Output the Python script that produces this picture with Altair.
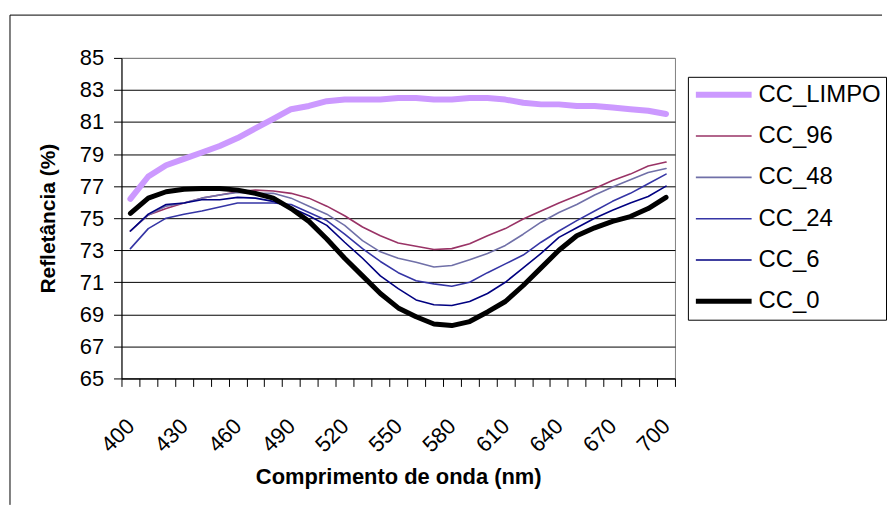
import altair as alt
import pandas as pd

wavelength = list(range(400, 701, 10))

series_names = ["CC_LIMPO", "CC_96", "CC_48", "CC_24", "CC_6", "CC_0"]
series_colors = ["#CC99FF", "#993366", "#7070A8", "#3535A5", "#000080", "#000000"]
series_widths = [6, 1.6, 1.6, 1.6, 1.6, 5]

cc_limpo = [76.2, 77.6, 78.3, 78.7, 79.1, 79.5, 80.0, 80.6, 81.2, 81.8, 82.0, 82.3, 82.4, 82.4, 82.4, 82.5,
            82.5, 82.4, 82.4, 82.5, 82.5, 82.4, 82.2, 82.1, 82.1, 82.0, 82.0, 81.9, 81.8, 81.7, 81.5]
cc_96 = [74.2, 75.2, 75.6, 75.95, 76.25, 76.45, 76.65, 76.75, 76.7, 76.55, 76.25, 75.75, 75.15, 74.45, 73.9, 73.45,
         73.25, 73.05, 73.1, 73.4, 73.9, 74.35, 74.95, 75.45, 75.95, 76.4, 76.85, 77.35, 77.75, 78.25, 78.5]
cc_48 = [74.2, 75.2, 75.75, 75.95, 76.25, 76.45, 76.6, 76.55, 76.55, 76.25, 75.75, 75.25, 74.55, 73.6, 72.9, 72.5,
         72.25, 71.95, 72.05, 72.4, 72.8, 73.3, 74.0, 74.75, 75.35, 75.85, 76.45, 76.95, 77.4, 77.85, 78.1]
cc_24 = [73.1, 74.35, 75.0, 75.25, 75.45, 75.7, 75.95, 75.95, 75.95, 75.85, 75.35, 74.85, 74.0, 73.1, 72.3, 71.6,
         71.1, 70.9, 70.75, 71.0, 71.6, 72.15, 72.7, 73.5, 74.2, 74.85, 75.45, 76.05, 76.55, 77.15, 77.75]
cc_6 = [74.2, 75.25, 75.85, 75.95, 76.15, 76.15, 76.3, 76.25, 76.05, 75.65, 75.15, 74.55, 73.5, 72.5, 71.4, 70.6,
        69.9, 69.6, 69.55, 69.8, 70.3, 71.0, 71.9, 72.8, 73.8, 74.4, 75.0, 75.5, 75.95, 76.35, 77.0]
cc_0 = [75.3, 76.25, 76.65, 76.8, 76.85, 76.85, 76.75, 76.55, 76.25, 75.6, 74.8, 73.7, 72.5, 71.4, 70.3, 69.4,
        68.85, 68.4, 68.3, 68.55, 69.15, 69.8, 70.8, 71.9, 73.0, 73.9, 74.4, 74.8, 75.1, 75.6, 76.3]

series_values = [cc_limpo, cc_96, cc_48, cc_24, cc_6, cc_0]

rows = []
for name, vals in zip(series_names, series_values):
    for w, v in zip(wavelength, vals):
        rows.append({"series": name, "wl": w, "value": v})
df = pd.DataFrame(rows)

FONT = "Liberation Sans"

lines = alt.Chart(df).mark_line(strokeCap="round", strokeJoin="round").encode(
    x=alt.X(
        "wl:Q",
        scale=alt.Scale(domain=[395, 705], nice=False, zero=False),
        axis=alt.Axis(
            values=list(range(395, 706, 5)),
            labelExpr="datum.value % 30 == 10 ? datum.label : ''",
            labelAngle=-45,
            labelAlign="right",
            labelBaseline="middle",
            labelOverlap=False,
            labelFlush=False,
            labelFontSize=22,
            labelFont=FONT,
            labelColor="black",
            labelPadding=36,
            tickOpacity={"condition": {"test": "datum.value % 10 == 0", "value": 0}, "value": 1},
            tickSize=8,
            tickColor="black",
            domainColor="black",
            grid=False,
            title="Comprimento de onda (nm)",
            titleFont=FONT,
            titleFontSize=22,
            titleFontWeight="bold",
            titleColor="black",
            titlePadding=11,
        ),
    ),
    y=alt.Y(
        "value:Q",
        scale=alt.Scale(domain=[65, 85], nice=False, zero=False),
        axis=alt.Axis(
            values=list(range(65, 86, 2)),
            grid=True,
            gridColor={"condition": {"test": "datum.value == 85", "value": "#808080"}, "value": "black"},
            gridWidth=1,
            tickSize=8,
            tickColor="black",
            domainColor="black",
            labelFontSize=22,
            labelFont=FONT,
            labelColor="black",
            labelPadding=10,
            title="Refletância (%)",
            titleFont=FONT,
            titleFontSize=21,
            titleFontWeight="bold",
            titleColor="black",
            titlePadding=21,
        ),
    ),
    color=alt.Color(
        "series:N",
        scale=alt.Scale(domain=series_names, range=series_colors),
        legend=alt.Legend(
            title=None,
            orient="none",
            legendX=569,
            legendY=19,
            strokeColor="black",
            fillColor="white",
            padding=5,
            symbolType="stroke",
            symbolSize=3136,
            clipHeight=26,
            rowPadding=15.5,
            labelFontSize=24,
            labelFont=FONT,
            labelColor="black",
            labelOffset=4,
        ),
    ),
    strokeWidth=alt.StrokeWidth(
        "series:N",
        scale=alt.Scale(type="ordinal", domain=series_names, range=series_widths),
    ),
)

border_data = pd.DataFrame({"k": [0]})
border_left = alt.Chart(border_data).mark_rule(color="black", strokeWidth=1).encode(
    x=alt.value(-112), y=alt.value(-43), y2=alt.value(449)
)
border_top = alt.Chart(border_data).mark_rule(color="black", strokeWidth=1).encode(
    x=alt.value(-112), x2=alt.value(764), y=alt.value(-43)
)

chart = alt.layer(lines, border_left, border_top).properties(
    width=556,
    height=322,
    padding={"left": 1, "top": 5, "right": 0, "bottom": 0},
    background="white",
).configure_view(
    stroke="#808080", strokeWidth=1
)

chart.save("out.html", embed_options={"renderer": "svg", "actions": False})
